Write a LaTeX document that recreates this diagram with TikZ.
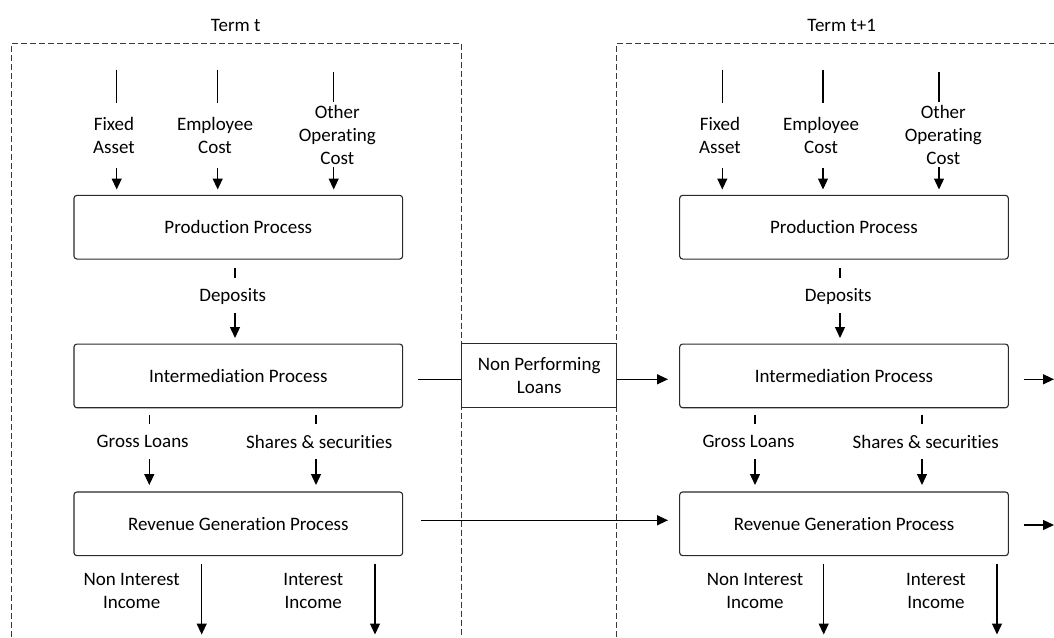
\documentclass[tikz,border=0pt]{standalone}
\usepackage{fontspec}
\setmainfont{Carlito}[Ligatures={NoCommon,NoContextual}]
\usetikzlibrary{arrows.meta}
\definecolor{boxgray}{HTML}{2A2A2A}
\definecolor{framegray}{HTML}{3A3A3A}
\newcommand\lblfont{\fontsize{19}{23}\selectfont}
\begin{document}
\begin{tikzpicture}[x=1pt,y=-1pt,
  box/.style={draw=boxgray, line width=1.1pt, rounded corners=3pt, minimum width=328.7pt, minimum height=63.7pt, inner sep=0pt, font=\lblfont},
  lbl/.style={align=center, inner sep=0pt, font=\lblfont},
  arr/.style={line width=1.3pt, -{Triangle[length=11pt,width=10pt]}},
  stub/.style={line width=1.3pt},
  frame/.style={draw=framegray, line width=1.1pt, dash pattern=on 6pt off 3pt}]
\useasboundingbox (0,0) rectangle (1054,637);

% frames
\draw[frame] (11.7,637) -- (11.7,43.3) -- (461.7,43.3) -- (461.7,637);
\draw[frame] (616.7,637) -- (616.7,43.3) -- (1054,43.3);
\node[lbl] (termt) at (235.7,25) {Term t};
\node[lbl] (termt1) at (841.7,25) {Term t+1};

% boxes
\node[box] (prodL) at (238.3,227.2) {Production Process};
\node[box] (intL) at (238.3,375.9) {Intermediation Process};
\node[box] (revL) at (238.3,523.8) {Revenue Generation Process};
\node[box] (prodR) at (844,227.2) {Production Process};
\node[box] (intR) at (844,375.9) {Intermediation Process};
\node[box] (revR) at (844,523.8) {Revenue Generation Process};
\node[draw=boxgray, line width=1.1pt, minimum width=155pt, minimum height=64pt, inner sep=0pt, align=center, font=\lblfont] (npl) at (539.2,375.5) {Non Performing\\Loans};

% ---- inputs
\foreach \n/\x/\tx/\ta in {faL/116.7/114/{Fixed\\Asset}, ecL/217.7/215/{Employee\\Cost}, faR/722.3/720/{Fixed\\Asset}, ecR/823/821/{Employee\\Cost}}{
  \coordinate (\n a) at (\x,69.5);
  \coordinate (\n b) at (\x,103);
  \coordinate (\n c) at (\x,168);
  \coordinate (\n d) at (\x,189.5);
  \draw[stub] (\n a) -- (\n b);
  \node[lbl] (\n t) at (\tx,135.5) {\ta};
  \draw[arr] (\n c) -- (\n d);
}
\foreach \n/\x/\tx in {ooL/333.7/337.3, ooR/939/943.3}{
  \coordinate (\n a) at (\x,72);
  \coordinate (\n b) at (\x,102);
  \coordinate (\n c) at (\x,167);
  \coordinate (\n d) at (\x,189.5);
  \draw[stub] (\n a) -- (\n b);
  \node[lbl] (\n t) at (\tx,134.5) {Other\\Opera\kern0pt t\kern0pt ing\\Cost};
  \draw[arr] (\n c) -- (\n d);
}

% deposits
\foreach \n/\x/\tx in {dpL/235/232.7, dpR/840/838.3}{
  \coordinate (\n a) at (\x,268);
  \coordinate (\n b) at (\x,278);
  \coordinate (\n c) at (\x,313);
  \coordinate (\n d) at (\x,338);
  \draw[stub] (\n a) -- (\n b);
  \node[lbl] (\n t) at (\tx,296) {Deposits};
  \draw[arr] (\n c) -- (\n d);
}

% gross loans / shares
\foreach \n/\x/\tx/\ta in {glL/149.3/142.7/{Gross Loans}, ssL/316/319.3/{Shares \& securi\kern0pt t\kern0pt ies}, glR/755/748.5/{Gross Loans}, ssR/922/925.7/{Shares \& securi\kern0pt t\kern0pt ies}}{
  \coordinate (\n a) at (\x,414.5);
  \coordinate (\n b) at (\x,423.5);
  \coordinate (\n c) at (\x,459);
  \coordinate (\n d) at (\x,485);
  \draw[stub] (\n a) -- (\n b);
  \node[lbl] (\n t) at (\tx,441.7) {\ta};
  \draw[arr] (\n c) -- (\n d);
}

% outputs
\foreach \n/\x/\tx/\ta in {niL/201.7/131.7/{Non Interest\\Income}, iiL/375/313.3/{Interest\\Income}, niR/823.7/755/{Non Interest\\Income}, iiR/997/936/{Interest\\Income}}{
  \coordinate (\n a) at (\x,563.5);
  \coordinate (\n b) at (\x,634.5);
  \node[lbl] (\n t) at (\tx,591) {\ta};
  \draw[arr] (\n a) -- (\n b);
}

% horizontal flows
\coordinate (hiA) at (418,379.3);
\coordinate (hiB) at (668,379.3);
\coordinate (hiC) at (1023.5,379.3);
\coordinate (hiD) at (1054,379.3);
\draw[stub] (hiA) -- (npl.west |- hiA);
\draw[arr] (npl.east |- hiA) -- (hiB);
\draw[arr] (hiC) -- (hiD);
\coordinate (hrA) at (421,520.3);
\coordinate (hrB) at (668,520.3);
\coordinate (hrC) at (1023.5,525);
\coordinate (hrD) at (1054,525);
\draw[arr] (hrA) -- (hrB);
\draw[arr] (hrC) -- (hrD);
\end{tikzpicture}
\end{document}
